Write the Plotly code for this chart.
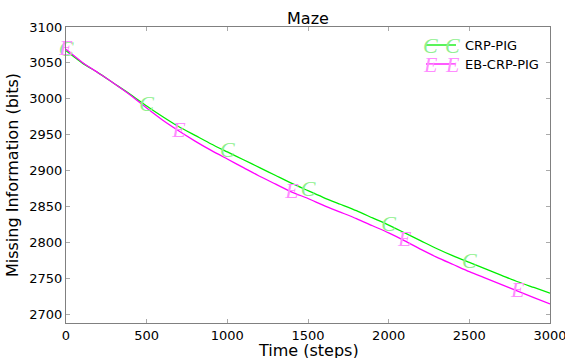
import plotly.graph_objects as go

steps = [0, 100, 200, 300, 400, 500, 600, 700, 800, 900, 1000, 1100, 1200, 1300, 1400, 1500,
         1600, 1700, 1800, 1900, 2000, 2100, 2200, 2300, 2400, 2500, 2600, 2700, 2800, 2900, 3000]
crp_pig = [3067, 3050, 3036, 3021, 3006, 2990, 2975, 2961, 2949, 2937, 2926, 2915, 2904, 2893, 2882, 2872,
           2862, 2853, 2844, 2834, 2824, 2813, 2802, 2791, 2781, 2772, 2763, 2754, 2745, 2737, 2729]
eb_crp_pig = [3069, 3051, 3036, 3021, 3005, 2987, 2970, 2955, 2941, 2928, 2916, 2904, 2892, 2881, 2870, 2861,
              2851, 2842, 2833, 2823, 2813, 2802, 2790, 2779, 2769, 2759, 2750, 2741, 2732, 2723, 2714]
series_names = ["CRP-PIG", "EB-CRP-PIG"]
marker_letters = ["C", "E"]
crp_marker_steps = [0, 500, 1000, 1500, 2000, 2500]
eb_marker_steps = [0, 700, 1400, 2100, 2800]
x_ticks = [0, 500, 1000, 1500, 2000, 2500, 3000]
y_ticks = [2700, 2750, 2800, 2850, 2900, 2950, 3000, 3050, 3100]

line_colors = ["#00ee00", "#ff00ff"]
glyph_colors = ["#8ef08e", "#ff8cff"]
FONT = "DejaVu Sans"
GLYPH_FONT = "Liberation Serif"

fig = go.Figure()
for ys, name, col in zip([crp_pig, eb_crp_pig], series_names, line_colors):
    fig.add_trace(go.Scatter(x=steps, y=ys, mode="lines", name=name,
                             line=dict(color=col, width=1.3, shape="spline", smoothing=0.6),
                             showlegend=False))
for ys, letter, msteps, gcol in zip([crp_pig, eb_crp_pig], marker_letters,
                                     [crp_marker_steps, eb_marker_steps], glyph_colors):
    lookup = dict(zip(steps, ys))
    fig.add_trace(go.Scatter(x=msteps, y=[lookup[s] for s in msteps], mode="text",
                             text=[letter] * len(msteps),
                             textposition="middle center",
                             textfont=dict(family=GLYPH_FONT, size=22, color=gcol, style="italic"),
                             showlegend=False, hoverinfo="skip", cliponaxis=False))

# manual legend (matplotlib-style, two glyphs over a line)
W = 484.0
H = 296.0
def px(x):
    return (x - 66) / W
def py(y):
    return (323 - y) / H

rows = [45, 64]
for i, (name, letter, lc, gc) in enumerate(zip(series_names, marker_letters, line_colors, glyph_colors)):
    yy = py(rows[i])
    fig.add_shape(type="line", xref="paper", yref="paper", x0=px(426), x1=px(456), y0=yy, y1=yy,
                  line=dict(color=lc, width=1.3))
    for gx in (430, 452):
        fig.add_annotation(xref="paper", yref="paper", x=px(gx), y=yy, text=letter, showarrow=False,
                           xanchor="center", yanchor="middle",
                           font=dict(family=GLYPH_FONT, size=22, color=gc, style="italic"))
    fig.add_annotation(xref="paper", yref="paper", x=px(463), y=yy, text=name, showarrow=False,
                       xanchor="left", yanchor="middle", font=dict(family=FONT, size=13, color="black"))

# x-axis title placed explicitly
fig.add_annotation(xref="paper", yref="paper", x=0.5, y=py(350), text="Time (steps)", showarrow=False,
                   xanchor="center", yanchor="middle", font=dict(family=FONT, size=16, color="black"))

axis_common = dict(showline=True, linecolor="#808080", linewidth=1, mirror="ticks", ticks="inside",
                   ticklen=4, tickcolor="#aaaaaa", showgrid=False, zeroline=False, automargin=False,
                   ticklabeloverflow="allow",
                   tickfont=dict(family=FONT, size=13, color="black"))
fig.update_xaxes(range=[0, 3000], tickvals=x_ticks, **axis_common)
fig.update_yaxes(range=[2687.5, 3100], tickvals=y_ticks,
                 title=dict(text="Missing Information (bits)", font=dict(family=FONT, size=16, color="black"), standoff=6),
                 **axis_common)

fig.update_layout(
    width=565, height=358,
    margin=dict(l=66, r=15, t=27, b=35),
    paper_bgcolor="white", plot_bgcolor="white",
    title=dict(text="Maze", x=0.5, xref="paper", y=1 - 18 / 358, yref="container",
               xanchor="center", yanchor="middle", font=dict(family=FONT, size=16, color="black")),
    showlegend=False,
)

fig.write_html("out.html", config={"displayModeBar": False},
               post_script="document.body.style.margin='0';document.body.style.overflow='hidden';")
